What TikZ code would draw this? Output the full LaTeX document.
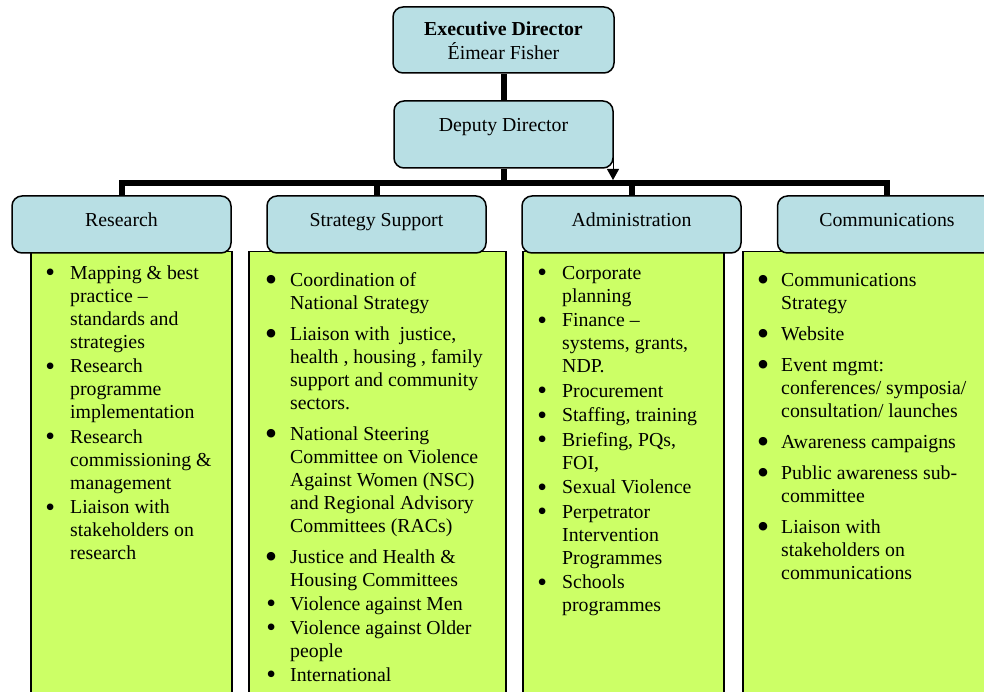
\documentclass[tikz,border=0pt]{standalone}
\usepackage{fontspec}
\setmainfont{Liberation Serif}
\usetikzlibrary{arrows.meta}
\definecolor{hdrblue}{RGB}{184,223,228}
\definecolor{limegreen}{RGB}{204,255,102}
\newcommand\smallbul{\makebox[0pt][c]{\smash{\raisebox{-2.5pt}{\scalebox{1.4}{\textbullet}}}}}
\newcommand\bigbul{\makebox[0pt][c]{\smash{\raisebox{-5pt}{\scalebox{1.8}{\textbullet}}}}}
\tikzset{
  txt/.style={font=\fontsize{19.8}{23}\selectfont},
  hdr/.style={txt, draw=black, line width=1.5pt, fill=hdrblue, rounded corners=10pt,
    inner sep=0pt, minimum width=219pt},
  contentbox/.style={draw=black, line width=1.5pt, fill=limegreen, inner sep=0pt},
  listtext/.style={txt, inner sep=0pt, anchor=north west, align=left},
  conn/.style={line width=6pt, line join=miter},
  thinarrow/.style={line width=1pt, -{Triangle[width=12pt,length=11pt]}}
}
\begin{document}
\begin{tikzpicture}[x=1pt,y=-1pt]
\useasboundingbox (0,0) rectangle (984,692);
\clip (0,0) rectangle (984,692);

% content boxes
\node[contentbox, anchor=north west, minimum width=201pt, minimum height=470pt] (rbox) at (30,251) {};
\node[contentbox, anchor=north west, minimum width=257pt, minimum height=470pt] (sbox) at (248,251) {};
\node[contentbox, anchor=north west, minimum width=201pt, minimum height=470pt] (abox) at (522,251) {};
\node[contentbox, anchor=north west, minimum width=270pt, minimum height=470pt] (cbox) at (742,251) {};

% top boxes
\node[hdr, minimum width=221pt, text height=29pt, text depth=37pt] (exec) at (503.5,40)
  {\begin{tabular}[t]{@{}c@{}}\textbf{Executive Director}\\Éimear Fisher\end{tabular}};
\node[hdr, text height=31pt, text depth=36pt] (dep) at (503.5,134.5) {Deputy Director};

% headers
\node[hdr, text height=30.5pt, text depth=26.5pt] (rhd) at (121.5,224.5) {Research};
\node[hdr, text height=30.5pt, text depth=26.5pt] (shd) at (376.5,224.5) {Strategy Support};
\node[hdr, text height=30.5pt, text depth=26.5pt] (ahd) at (631.5,224.5) {Administration};
\node[hdr, text height=30.5pt, text depth=26.5pt] (chd) at (887,224.5) {Communications};

% connectors
\coordinate (bary) at (504,183);
\draw[conn] (exec.south) -- (dep.north);
\draw[conn] (dep.south) -- (dep.south |- bary);
\draw[conn] (rhd.north) |- (bary) -| (chd.north);
\draw[conn] (shd.north) -- (shd.north |- bary);
\draw[conn] (ahd.north) -- (ahd.north |- bary);
\coordinate (atop) at (613,150);
\coordinate (atip) at (613,180);
\draw[thinarrow] (atop) -- (atip);

% lists
\node[listtext] (rlist) at (50,262.9) {\begin{tabular}{@{}l@{\hspace{20pt}}l@{}}
\smallbul & Mapping \& best\\
 & practice –\\
 & standards and\\
 & strategies\\[1.5pt]
\smallbul & Research\\
 & programme\\
 & implementation\\[1.5pt]
\smallbul & Research\\
 & commissioning \&\\
 & management\\[1.5pt]
\smallbul & Liaison with\\
 & stakeholders on\\
 & research
\end{tabular}};

\node[listtext] (slist) at (271,269.9) {\begin{tabular}{@{}l@{\hspace{19pt}}l@{}}
\bigbul & Coordination of\\
 & National Strategy\\[8pt]
\bigbul & Liaison with\ \ justice,\\
 & health , housing , family\\
 & support and community\\
 & sectors.\\[8pt]
\bigbul & National Steering\\
 & Committee on Violence\\
 & Against Women (NSC)\\
 & and Regional Advisory\\
 & Committees (RACs)\\[8pt]
\bigbul & Justice and Health \&\\
 & Housing Committees\\[1pt]
\smallbul & Violence against Men\\[1pt]
\smallbul & Violence against Older\\
 & people\\[1pt]
\smallbul & International
\end{tabular}};

\node[listtext] (alist) at (542,262.9) {\begin{tabular}{@{}l@{\hspace{20pt}}l@{}}
\smallbul & Corporate\\
 & planning\\[1.5pt]
\smallbul & Finance –\\
 & systems, grants,\\
 & NDP.\\[1.5pt]
\smallbul & Procurement\\[1.5pt]
\smallbul & Staffing, training\\[1.5pt]
\smallbul & Briefing, PQs,\\
 & FOI,\\[1.5pt]
\smallbul & Sexual Violence\\[1.5pt]
\smallbul & Perpetrator\\
 & Intervention\\
 & Programmes\\[1.5pt]
\smallbul & Schools\\
 & programmes
\end{tabular}};

\node[listtext] (clist) at (763,269.9) {\begin{tabular}{@{}l@{\hspace{18pt}}l@{}}
\bigbul & Communications\\
 & Strategy\\[8pt]
\bigbul & Website\\[8pt]
\bigbul & Event mgmt:\\
 & conferences/ symposia/\\
 & consultation/ launches\\[8pt]
\bigbul & Awareness campaigns\\[8pt]
\bigbul & Public awareness sub-\\
 & committee\\[8pt]
\bigbul & Liaison with\\
 & stakeholders on\\
 & communications
\end{tabular}};
\end{tikzpicture}
\end{document}
